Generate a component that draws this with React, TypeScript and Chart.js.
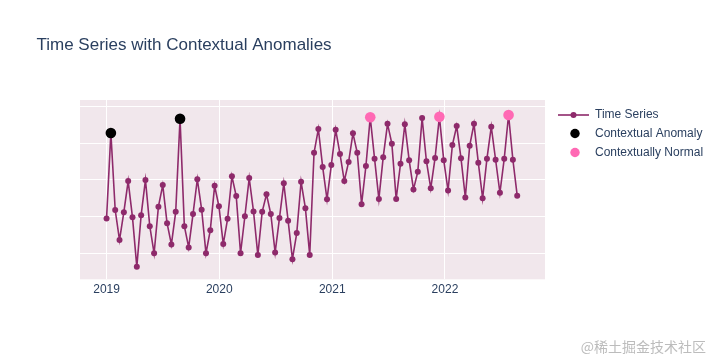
import { useEffect, useRef } from 'react';
import { Chart, registerables } from 'chart.js';

Chart.register(...registerables);

// ---- data ----
const TITLE = 'Time Series with Contextual Anomalies';
const START_DATE = '2019-01-01';
const STEP_DAYS = 14;
const VALUES = [
  9.5, 32.8, 11.8, 3.6, 11.2, 19.7, 9.8, -3.7, 10.4, 20.0,
  7.4, 0.0, 12.7, 18.6, 8.2, 2.4, 11.3, 36.7, 7.4, 1.6,
  10.7, 20.2, 11.9, 0.0, 6.3, 18.4, 12.8, 2.5, 9.4, 21.0,
  15.6, 0.0, 10.1, 20.5, 11.4, -0.5, 11.3, 16.1, 10.7, 0.2,
  9.6, 19.1, 8.9, -1.6, 5.5, 19.5, 12.3, -0.5, 27.4, 33.9,
  23.5, 14.7, 24.1, 33.7, 27.1, 19.7, 24.9, 32.7, 27.4, 13.4,
  23.8, 37.1, 25.8, 14.8, 26.2, 35.3, 29.9, 14.8, 24.4, 35.2,
  25.4, 17.4, 22.2, 36.9, 25.1, 17.7, 26.0, 37.2, 25.4, 17.1,
  29.5, 34.7, 25.9, 15.2, 29.3, 35.3, 24.7, 15.0, 25.8, 34.5,
  25.5, 16.5, 25.8, 37.7, 25.5, 15.7,
];
const ANOMALY_IDX = [1, 17];
const NORMAL_IDX = [61, 77, 93];
const YEAR_TICKS = [2019, 2020, 2021, 2022];
const Y_GRID = [0, 10, 20, 30, 40];
const X_RANGE = ['2018-10-07', '2022-11-21'];
const Y_RANGE = [-7.1, 41.8];
const LEGEND_LABELS = ['Time Series', 'Contextual Anomaly', 'Contextually Normal'];
const WATERMARK = '@稀土掘金技术社区';

// ---- styles ----
const LINE_COLOR = '#8e2a6b';
const ANOMALY_COLOR = '#000000';
const NORMAL_COLOR = '#ff69b4';
const PLOT_BG = '#f1e7ec';
const TEXT_COLOR = '#2a3f5f';
const FONT = '"Liberation Sans", Arial, sans-serif';

const DAY = 86400000;
const toMs = (s: string) => Date.parse(s + 'T00:00:00Z');
const START_MS = toMs(START_DATE);
const points = VALUES.map((v, i) => ({ x: START_MS + i * STEP_DAYS * DAY, y: v }));
const anomalyPts = ANOMALY_IDX.map((i) => points[i]);
const normalPts = NORMAL_IDX.map((i) => points[i]);

const decor = {
  id: 'decor',
  beforeDraw(chart: any) {
    const { ctx, chartArea: a } = chart;
    ctx.save();
    ctx.fillStyle = '#ffffff';
    ctx.fillRect(0, 0, chart.width, chart.height);
    ctx.fillStyle = PLOT_BG;
    ctx.fillRect(a.left, a.top, a.right - a.left, a.bottom - a.top);
    ctx.restore();
  },
  afterDraw(chart: any) {
    const { ctx } = chart;
    ctx.save();
    // title
    ctx.fillStyle = TEXT_COLOR;
    ctx.font = `17px ${FONT}`;
    ctx.textBaseline = 'alphabetic';
    ctx.textAlign = 'left';
    ctx.fillText(TITLE, 36.5, 50);

    // legend
    const lx = 558;
    const tx = 595;
    const ys = [115, 133.5, 152.5];
    ctx.font = `12px ${FONT}`;
    ctx.textBaseline = 'middle';
    ctx.strokeStyle = LINE_COLOR;
    ctx.lineWidth = 1.6;
    ctx.beginPath();
    ctx.moveTo(lx, ys[0]);
    ctx.lineTo(lx + 31, ys[0]);
    ctx.stroke();
    ctx.fillStyle = LINE_COLOR;
    ctx.beginPath();
    ctx.arc(lx + 15.5, ys[0], 3, 0, Math.PI * 2);
    ctx.fill();
    ctx.fillStyle = ANOMALY_COLOR;
    ctx.beginPath();
    ctx.arc(lx + 17, ys[1], 4.7, 0, Math.PI * 2);
    ctx.fill();
    ctx.fillStyle = NORMAL_COLOR;
    ctx.beginPath();
    ctx.arc(lx + 17, ys[2], 4.7, 0, Math.PI * 2);
    ctx.fill();
    ctx.fillStyle = TEXT_COLOR;
    LEGEND_LABELS.forEach((t, i) => ctx.fillText(t, tx, ys[i]));

    // watermark
    ctx.font = `14px "Noto Sans CJK SC", sans-serif`;
    ctx.textAlign = 'right';
    ctx.fillStyle = 'rgba(165,165,165,0.75)';
    ctx.fillText(WATERMARK, 706, 347);
    ctx.restore();
  },
};

export default function App() {
  const ref = useRef<HTMLCanvasElement>(null);
  useEffect(() => {
    const canvas = ref.current;
    if (!canvas) return;
    const chart = new Chart(canvas, {
      type: 'line',
      data: {
        datasets: [
          {
            label: LEGEND_LABELS[1],
            data: anomalyPts,
            showLine: false,
            pointRadius: 5.3,
            pointBackgroundColor: ANOMALY_COLOR,
            pointBorderWidth: 0,
            borderColor: ANOMALY_COLOR,
            order: 1,
          },
          {
            label: LEGEND_LABELS[2],
            data: normalPts,
            showLine: false,
            pointRadius: 5.3,
            pointBackgroundColor: NORMAL_COLOR,
            pointBorderWidth: 0,
            borderColor: NORMAL_COLOR,
            order: 1,
          },
          {
            label: LEGEND_LABELS[0],
            data: points,
            borderColor: LINE_COLOR,
            borderWidth: 1.6,
            pointRadius: 3,
            pointBackgroundColor: LINE_COLOR,
            pointBorderColor: LINE_COLOR,
            pointBorderWidth: 0,
            tension: 0,
            order: 2,
          },
        ],
      } as any,
      options: {
        responsive: false,
        animation: false,
        events: [],
        layout: { padding: { left: 80, right: 175, top: 100, bottom: 60.7 } },
        plugins: {
          legend: { display: false },
          title: { display: false },
          tooltip: { enabled: false },
        },
        scales: {
          x: {
            type: 'linear',
            min: toMs(X_RANGE[0]),
            max: toMs(X_RANGE[1]),
            afterBuildTicks: (s: any) => {
              s.ticks = YEAR_TICKS.map((y) => ({ value: Date.UTC(y, 0, 1) }));
            },
            afterFit: (s: any) => {
              s.height = 20;
            },
            grid: { color: '#ffffff', lineWidth: 1, drawTicks: false },
            border: { display: false },
            ticks: {
              color: TEXT_COLOR,
              font: { family: FONT, size: 12 },
              padding: 3,
              maxRotation: 0,
              autoSkip: false,
              callback: (v: any) => String(new Date(Number(v)).getUTCFullYear()),
            },
          },
          y: {
            type: 'linear',
            min: Y_RANGE[0],
            max: Y_RANGE[1],
            afterBuildTicks: (s: any) => {
              s.ticks = Y_GRID.map((v) => ({ value: v }));
            },
            afterFit: (s: any) => {
              s.width = 0;
            },
            grid: { color: '#ffffff', lineWidth: 1, drawTicks: false },
            border: { display: false },
            ticks: { display: false },
          },
        },
      } as any,
      plugins: [decor],
    });
    return () => chart.destroy();
  }, []);
  return (
    <div style={{ position: 'fixed', left: 0, top: 0, width: 720, height: 360, background: '#fff' }}>
      <canvas ref={ref} width={720} height={360} style={{ display: 'block' }} />
    </div>
  );
}
